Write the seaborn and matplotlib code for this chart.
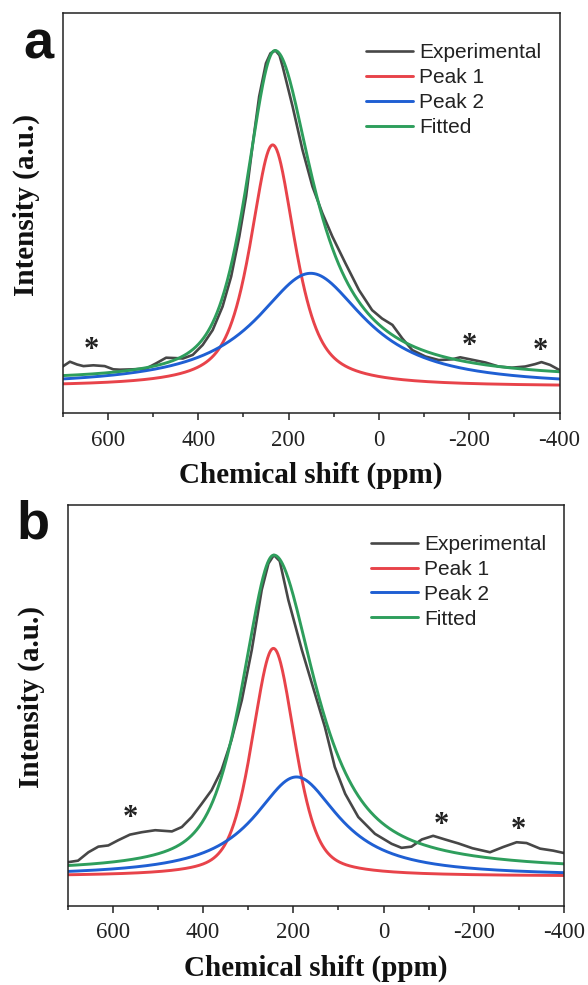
import numpy as np
import pandas as pd
import matplotlib
matplotlib.use("Agg")
import matplotlib.pyplot as plt
from matplotlib.ticker import MultipleLocator
import seaborn as sns

# ---------------- data ----------------
# Experimental spectrum, panel a (ppm, normalised intensity)
exp_a_ppm = [700, 684, 668, 654, 632, 607, 588, 573, 544, 515, 493, 471, 450, 434,
             412, 390, 368, 346, 327, 309, 294, 279, 265, 250, 240, 229, 220, 213,
             191, 169, 147, 125, 103, 74, 44, 15, -7, -30, -52, -74, -103, -133,
             -162, -180, -206, -236, -265, -294, -324, -346, -360, -379, -400]
exp_a_int = [0.117, 0.129, 0.122, 0.118, 0.120, 0.118, 0.110, 0.109, 0.110, 0.112,
             0.125, 0.139, 0.138, 0.137, 0.146, 0.171, 0.208, 0.267, 0.342, 0.442,
             0.542, 0.675, 0.792, 0.875, 0.900, 0.907, 0.895, 0.867, 0.767, 0.658,
             0.567, 0.500, 0.442, 0.375, 0.308, 0.258, 0.237, 0.221, 0.187, 0.158,
             0.142, 0.133, 0.135, 0.140, 0.134, 0.127, 0.117, 0.114, 0.117, 0.123,
             0.128, 0.121, 0.108]

# Experimental spectrum, panel b
exp_b_ppm = [700, 677, 654, 632, 610, 588, 562, 536, 506, 469, 447, 425, 403, 381,
             359, 337, 314, 292, 270, 255, 243, 230, 211, 181, 152, 130, 108, 85,
             56, 19, -18, -40, -62, -85, -110, -136, -166, -197, -236, -265, -295,
             -317, -347, -376, -400]
exp_b_int = [0.108, 0.112, 0.133, 0.147, 0.150, 0.163, 0.177, 0.183, 0.188, 0.185,
             0.196, 0.221, 0.254, 0.288, 0.338, 0.413, 0.513, 0.638, 0.788, 0.854,
             0.875, 0.860, 0.763, 0.638, 0.529, 0.446, 0.346, 0.279, 0.221, 0.179,
             0.154, 0.144, 0.147, 0.165, 0.174, 0.165, 0.155, 0.143, 0.133, 0.146,
             0.158, 0.156, 0.142, 0.137, 0.131]

# Deconvolution components (pseudo-Voigt): centre, amplitude, FWHM, Lorentzian fraction
base_a = 0.067
peak_a_center = [235, 151]
peak_a_amp = [0.604, 0.283]
peak_a_fwhm = [118, 294]
peak_a_eta = [0.70, 1.00]

base_b = 0.073
peak_b_center = [244, 193]
peak_b_amp = [0.569, 0.248]
peak_b_fwhm = [112, 230]
peak_b_eta = [0.45, 1.00]

# Fitted envelope (split pseudo-Voigt): baseline, centre, amplitude,
# FWHM on the high-ppm / low-ppm side, Lorentzian fraction on each side
fit_a = {"base": 0.082, "center": 230, "amp": 0.825,
         "fwhm": (150, 208), "eta": (0.60, 1.00)}
fit_b = {"base": 0.085, "center": 243, "amp": 0.790,
         "fwhm": (164, 220), "eta": (0.60, 0.85)}

# Spinning sidebands marked with asterisks
star_a_ppm = [636, -200, -357]
star_a_int = [0.158, 0.167, 0.154]
star_b_ppm = [562, -129, -299]
star_b_int = [0.217, 0.200, 0.1875]

tick_values = [600, 400, 200, 0, -200, -400]
series_names = ["Experimental", "Peak 1", "Peak 2", "Fitted"]

# ---------------- style ----------------
sns.set_theme(style="ticks")
plt.rcParams["font.family"] = ["Liberation Serif", "DejaVu Serif"]

colors = {"Experimental": "#474747", "Peak 1": "#e8434a",
          "Peak 2": "#1f5fd3", "Fitted": "#2e9e5c"}
widths = {"Experimental": 1.9, "Peak 1": 2.1, "Peak 2": 2.1, "Fitted": 2.1}

grid = np.linspace(-400, 700, 1101)


def pseudo_voigt(x, c, amp, fwhm, eta):
    d = (x - c) / fwhm
    lor = 1.0 / (1.0 + 4.0 * d ** 2)
    gau = np.exp(-4.0 * np.log(2.0) * d ** 2)
    return amp * (eta * lor + (1.0 - eta) * gau)


def split_pseudo_voigt(x, p):
    hi = pseudo_voigt(x, p["center"], p["amp"], p["fwhm"][0], p["eta"][0])
    lo = pseudo_voigt(x, p["center"], p["amp"], p["fwhm"][1], p["eta"][1])
    return p["base"] + np.where(x >= p["center"], hi, lo)


def draw_panel(ax, exp_ppm, exp_int, base, centers, amps, fwhms, etas, fit,
               s_ppm, s_int, letter, letter_xy):
    curves = {
        "Peak 1": base + pseudo_voigt(grid, centers[0], amps[0], fwhms[0], etas[0]),
        "Peak 2": base + pseudo_voigt(grid, centers[1], amps[1], fwhms[1], etas[1]),
        "Fitted": split_pseudo_voigt(grid, fit),
    }
    exp_df = pd.DataFrame({"ppm": exp_ppm, "intensity": exp_int})
    sns.lineplot(data=exp_df, x="ppm", y="intensity", ax=ax, sort=False,
                 estimator=None, color=colors["Experimental"],
                 linewidth=widths["Experimental"], label="Experimental")
    for name in ["Peak 1", "Peak 2", "Fitted"]:
        df = pd.DataFrame({"ppm": grid, "intensity": curves[name]})
        sns.lineplot(data=df, x="ppm", y="intensity", ax=ax, sort=False,
                     estimator=None, color=colors[name],
                     linewidth=widths[name], label=name)

    for sx, sy in zip(s_ppm, s_int):
        ax.text(sx, sy, "*", ha="center", va="center", fontsize=22,
                fontweight="bold", color="#222222")

    ax.set_xlim(700, -400)
    ax.set_ylim(0, 1)
    ax.xaxis.set_minor_locator(MultipleLocator(100))
    ax.set_xticks(tick_values)
    ax.set_xticklabels([str(v) for v in tick_values])
    ax.set_yticks([])
    ax.tick_params(axis="x", which="major", direction="out", length=5,
                   width=1.1, pad=7.0, labelsize=16.5, color="#222222",
                   labelcolor="#222222")
    ax.tick_params(axis="x", which="minor", direction="out", length=3,
                   width=1.1, color="#222222")
    for sp in ax.spines.values():
        sp.set_visible(True)
        sp.set_linewidth(1.1)
        sp.set_color("#222222")

    ax.set_xlabel("Chemical shift (ppm)", fontsize=21, fontweight="bold",
                  color="#111111", va="top")
    ax.xaxis.set_label_coords(0.5, -0.122)
    ax.set_ylabel("Intensity (a.u.)", fontsize=21, fontweight="bold",
                  color="#111111")
    ax.yaxis.set_label_coords(-0.046, 0.52)

    handles, labels = ax.get_legend_handles_labels()
    order = [labels.index(n) for n in series_names]
    leg = ax.legend([handles[i] for i in order], [labels[i] for i in order],
                    loc="upper left", bbox_to_anchor=(0.611, 0.925),
                    frameon=False, borderpad=0, borderaxespad=0,
                    handlelength=2.25, handletextpad=0.3, labelspacing=0.28,
                    prop={"family": ["Liberation Sans", "DejaVu Sans"],
                          "size": 15})
    for t in leg.get_texts():
        t.set_color("#222222")

    fig.text(letter_xy[0], letter_xy[1], letter, ha="center", va="baseline",
             fontsize=39, fontweight="bold", color="#111111",
             family=["Liberation Sans", "DejaVu Sans"])


fig = plt.figure(figsize=(5.88, 9.85), dpi=100)
ax_a = fig.add_axes([0.1066, 0.5804, 0.8450, 0.4061])
ax_b = fig.add_axes([0.1151, 0.0807, 0.8441, 0.4066])

draw_panel(ax_a, exp_a_ppm, exp_a_int, base_a, peak_a_center, peak_a_amp,
           peak_a_fwhm, peak_a_eta, fit_a, star_a_ppm, star_a_int, "a",
           (0.066, 0.9411))
draw_panel(ax_b, exp_b_ppm, exp_b_int, base_b, peak_b_center, peak_b_amp,
           peak_b_fwhm, peak_b_eta, fit_b, star_b_ppm, star_b_int, "b",
           (0.056, 0.4538))

fig.savefig("out.png", dpi=100, facecolor="white")
